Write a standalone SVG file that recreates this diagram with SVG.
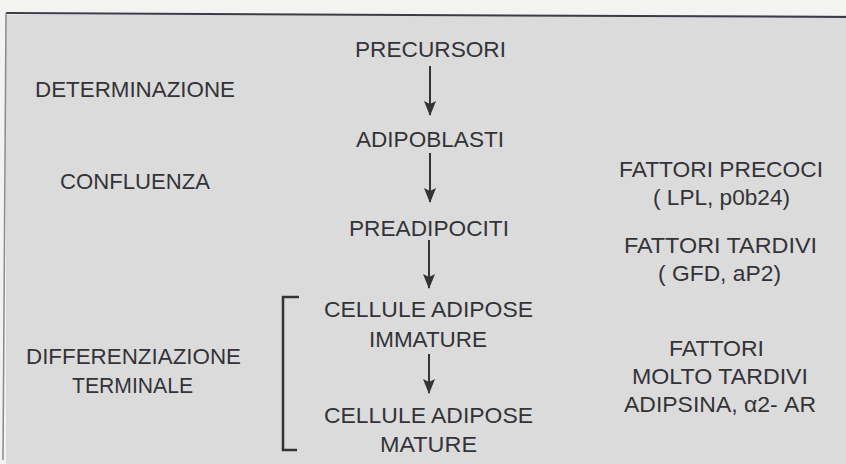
<svg xmlns="http://www.w3.org/2000/svg" width="846" height="464" viewBox="0 0 846 464">
  <defs>
    <style>
      .t { font-family: "Liberation Sans", Arial, sans-serif; font-size: 22px; fill: #333338; text-anchor: middle; }
      .c { stroke: #333338; stroke-width: 2; fill: none; }
    </style>
    <marker id="ah" viewBox="0 0 15 12" refX="14" refY="6" markerWidth="15" markerHeight="12" markerUnits="userSpaceOnUse" orient="auto">
      <path d="M0,0 L15,6 L0,12 L3,6 Z" fill="#333338"/>
    </marker>
  </defs>
  <rect x="0" y="0" width="846" height="464" fill="#f3f3f1"/>
  <rect x="6" y="15" width="840" height="449" fill="#dcdbdb"/>
  <line x1="6" y1="13" x2="846" y2="17" stroke="#3c3c48" stroke-width="2"/>
  <line x1="6" y1="13" x2="3" y2="460" stroke="#8a8a8a" stroke-width="1.5"/>

  <g id="left-labels">
    <text class="t" x="135" y="97" textLength="200" lengthAdjust="spacingAndGlyphs">DETERMINAZIONE</text>
    <text class="t" x="135" y="189" textLength="150" lengthAdjust="spacingAndGlyphs">CONFLUENZA</text>
    <text class="t" x="133.5" y="364" textLength="215" lengthAdjust="spacingAndGlyphs">DIFFERENZIAZIONE</text>
    <text class="t" x="132.5" y="393" textLength="121" lengthAdjust="spacingAndGlyphs">TERMINALE</text>
  </g>

  <g id="n-precursori"><text class="t" x="430.5" y="57" textLength="151" lengthAdjust="spacingAndGlyphs">PRECURSORI</text></g>
  <g id="n-adipoblasti"><text class="t" x="430" y="147" textLength="148" lengthAdjust="spacingAndGlyphs">ADIPOBLASTI</text></g>
  <g id="n-preadipociti"><text class="t" x="429" y="236" textLength="160" lengthAdjust="spacingAndGlyphs">PREADIPOCITI</text></g>
  <g id="n-immature">
    <text class="t" x="428.5" y="317" textLength="209" lengthAdjust="spacingAndGlyphs">CELLULE ADIPOSE</text>
    <text class="t" x="428" y="347" textLength="118" lengthAdjust="spacingAndGlyphs">IMMATURE</text>
  </g>
  <g id="n-mature">
    <text class="t" x="428.5" y="423" textLength="209" lengthAdjust="spacingAndGlyphs">CELLULE ADIPOSE</text>
    <text class="t" x="428.5" y="452" textLength="97" lengthAdjust="spacingAndGlyphs">MATURE</text>
  </g>

  <g id="connectors">
    <line class="c" x1="430" y1="66" x2="430" y2="115" marker-end="url(#ah)"/>
    <line class="c" x1="430" y1="153" x2="430" y2="202" marker-end="url(#ah)"/>
    <line class="c" x1="429" y1="240" x2="429" y2="288" marker-end="url(#ah)"/>
    <line class="c" x1="429" y1="354" x2="429" y2="393" marker-end="url(#ah)"/>
  </g>

  <g id="bracket">
    <path d="M299,297 H283 V450 H297" stroke="#333338" stroke-width="2.5" fill="none"/>
  </g>

  <g id="right-labels">
    <text class="t" x="721" y="177" textLength="204" lengthAdjust="spacingAndGlyphs">FATTORI PRECOCI</text>
    <text class="t" x="721.5" y="205" textLength="137" lengthAdjust="spacingAndGlyphs">( LPL, p0b24)</text>
    <text class="t" x="720.5" y="253" textLength="193" lengthAdjust="spacingAndGlyphs">FATTORI TARDIVI</text>
    <text class="t" x="719.5" y="281" textLength="123" lengthAdjust="spacingAndGlyphs">( GFD, aP2)</text>
    <text class="t" x="716.5" y="356" textLength="95" lengthAdjust="spacingAndGlyphs">FATTORI</text>
    <text class="t" x="720" y="384" textLength="176" lengthAdjust="spacingAndGlyphs">MOLTO TARDIVI</text>
    <text class="t" x="720" y="412" textLength="192" lengthAdjust="spacingAndGlyphs">ADIPSINA, α2- AR</text>
  </g>
</svg>
